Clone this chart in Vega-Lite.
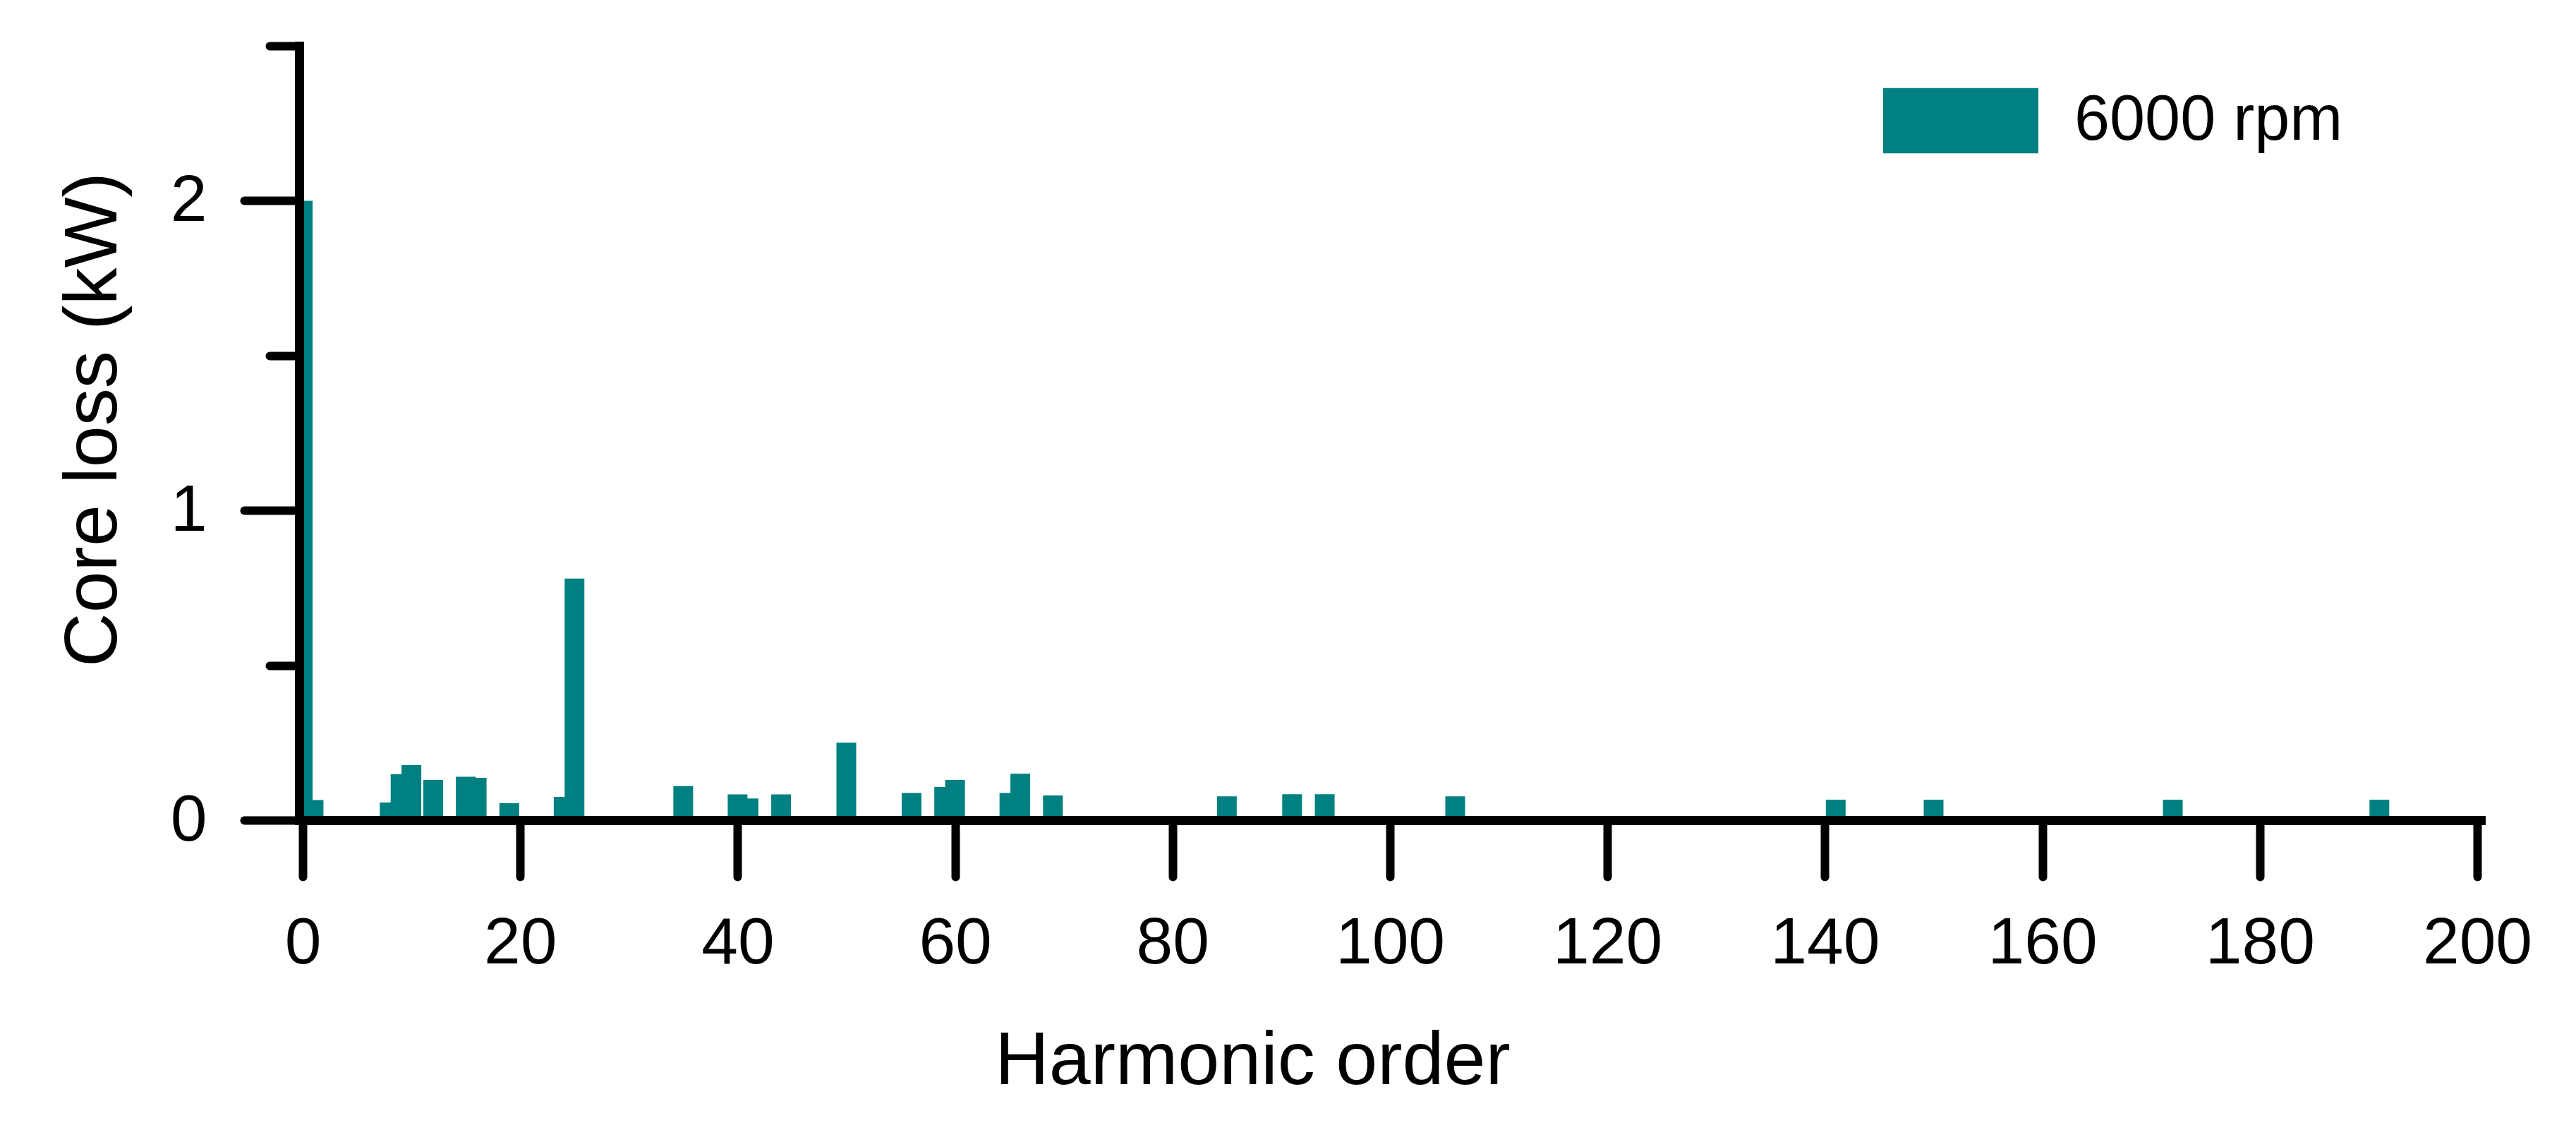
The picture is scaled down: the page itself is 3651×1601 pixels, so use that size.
{
  "$schema": "https://vega.github.io/schema/vega-lite/v6.json",
  "autosize": {"type": "none"},
  "width": 3092,
  "height": 1097,
  "padding": {"left": 424, "top": 65, "right": 135, "bottom": 439},
  "background": "white",
  "config": {
    "view": {"stroke": null},
    "font": "Liberation Sans"
  },
  "data": {
    "values": [
      {"harmonic": 0, "loss": 2.0, "speed": "6000 rpm"},
      {"harmonic": 1, "loss": 0.065, "speed": "6000 rpm"},
      {"harmonic": 8, "loss": 0.057, "speed": "6000 rpm"},
      {"harmonic": 9, "loss": 0.148, "speed": "6000 rpm"},
      {"harmonic": 10, "loss": 0.178, "speed": "6000 rpm"},
      {"harmonic": 12, "loss": 0.13, "speed": "6000 rpm"},
      {"harmonic": 15, "loss": 0.14, "speed": "6000 rpm"},
      {"harmonic": 16, "loss": 0.137, "speed": "6000 rpm"},
      {"harmonic": 19, "loss": 0.055, "speed": "6000 rpm"},
      {"harmonic": 24, "loss": 0.075, "speed": "6000 rpm"},
      {"harmonic": 25, "loss": 0.78, "speed": "6000 rpm"},
      {"harmonic": 35, "loss": 0.11, "speed": "6000 rpm"},
      {"harmonic": 40, "loss": 0.083, "speed": "6000 rpm"},
      {"harmonic": 41, "loss": 0.07, "speed": "6000 rpm"},
      {"harmonic": 44, "loss": 0.083, "speed": "6000 rpm"},
      {"harmonic": 50, "loss": 0.25, "speed": "6000 rpm"},
      {"harmonic": 56, "loss": 0.088, "speed": "6000 rpm"},
      {"harmonic": 59, "loss": 0.107, "speed": "6000 rpm"},
      {"harmonic": 60, "loss": 0.13, "speed": "6000 rpm"},
      {"harmonic": 65, "loss": 0.088, "speed": "6000 rpm"},
      {"harmonic": 66, "loss": 0.15, "speed": "6000 rpm"},
      {"harmonic": 69, "loss": 0.08, "speed": "6000 rpm"},
      {"harmonic": 85, "loss": 0.077, "speed": "6000 rpm"},
      {"harmonic": 91, "loss": 0.084, "speed": "6000 rpm"},
      {"harmonic": 94, "loss": 0.084, "speed": "6000 rpm"},
      {"harmonic": 106, "loss": 0.077, "speed": "6000 rpm"},
      {"harmonic": 141, "loss": 0.066, "speed": "6000 rpm"},
      {"harmonic": 150, "loss": 0.066, "speed": "6000 rpm"},
      {"harmonic": 172, "loss": 0.066, "speed": "6000 rpm"},
      {"harmonic": 191, "loss": 0.066, "speed": "6000 rpm"}
    ]
  },
  "mark": {"type": "bar", "orient": "vertical", "size": 28, "clip": true},
  "encoding": {
    "x": {
      "field": "harmonic",
      "type": "quantitative",
      "scale": {"domain": [0, 200], "nice": false},
      "axis": {
        "values": [0, 20, 40, 60, 80, 100, 120, 140, 160, 180, 200],
        "title": "Harmonic order",
        "titleFontSize": 106,
        "titleFontWeight": "normal",
        "titleColor": "black",
        "titleX": 1351,
        "titleY": 373,
        "titleAlign": "center",
        "titleBaseline": "alphabetic",
        "labelFontSize": 93,
        "labelColor": "black",
        "labelPadding": 49,
        "labelFlush": false,
        "labelOverlap": false,
        "tickSize": 80,
        "tickWidth": 12,
        "tickColor": "black",
        "tickCap": "round",
        "domainWidth": 13,
        "domainColor": "black",
        "domainCap": "square",
        "grid": false,
        "zindex": 2
      }
    },
    "y": {
      "field": "loss",
      "type": "quantitative",
      "stack": null,
      "scale": {"domain": [0, 2.5], "nice": false},
      "axis": {
        "values": [0, 0.5, 1, 1.5, 2, 2.5],
        "labelExpr": "datum.value % 1 === 0 && datum.value < 2.5 ? format(datum.value, 'd') : ''",
        "title": "Core loss (kW)",
        "titleFontSize": 106,
        "titleFontWeight": "normal",
        "titleColor": "black",
        "titleAngle": -90,
        "titleX": -292,
        "titleY": 529,
        "titleAlign": "center",
        "titleBaseline": "middle",
        "labelFontSize": 93,
        "labelColor": "black",
        "labelPadding": 53,
        "labelOverlap": false,
        "labelFlush": false,
        "tickSize": {"condition": {"test": "datum.value % 1 === 0", "value": 78}, "value": 42},
        "tickWidth": 12,
        "tickColor": "black",
        "tickCap": "round",
        "domainWidth": 13,
        "domainColor": "black",
        "domainCap": "square",
        "grid": false,
        "zindex": 2
      }
    },
    "color": {
      "field": "speed",
      "type": "nominal",
      "scale": {"domain": ["6000 rpm"], "range": ["#008080"]},
      "legend": {
        "title": null,
        "orient": "none",
        "legendX": 2245,
        "legendY": -4,
        "padding": 0,
        "symbolType": "M-1,-0.42L1,-0.42L1,0.42L-1,0.42Z",
        "symbolSize": 48400,
        "symbolStrokeWidth": 0,
        "symbolOpacity": 1,
        "labelFontSize": 90,
        "labelColor": "black",
        "labelOffset": 51,
        "labelLimit": 1000
      }
    }
  }
}
